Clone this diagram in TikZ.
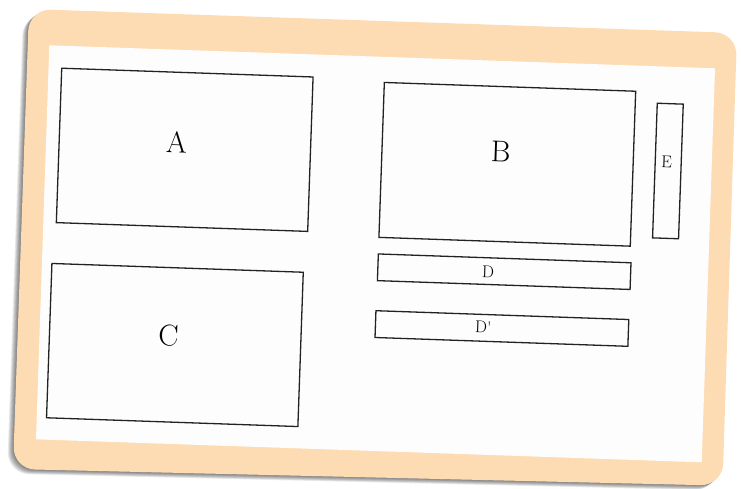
\documentclass[tikz,border=0pt]{standalone}
\usepackage{xcolor}
\usepackage{tikz}
\usetikzlibrary{positioning, calc}
\definecolor{FramePeach}{HTML}{FDDBB3}
\definecolor{SheetWhite}{HTML}{FDFDFD}
\definecolor{PanelLine}{HTML}{222222}

\begin{document}
\begin{tikzpicture}[x=1pt, y=-1pt,
    panel/.style={draw=PanelLine, line width=1.3pt, rotate=-2, inner sep=0pt},
    bigtag/.style={text=black, font=\fontsize{30}{36}\selectfont,
                   rotate=-2, inner sep=0pt},
    smalltag/.style={text=black, font=\fontsize{17}{20}\selectfont,
                     rotate=-2, inner sep=0pt}]
  \useasboundingbox (0,0) rectangle (741,488);
  % soft shadow of the frame
  \foreach \s in {1,...,8}
    \fill[black, opacity=0.075, rounded corners=22pt, shift={({-0.75*\s},{0.6*\s})}]
      (29,9) -- (737,33) -- (722.5,485.6) -- (13,469) -- cycle;
  % frame and sheet
  \fill[FramePeach, rounded corners=22pt]
    (29,9) -- (737,33) -- (722.5,485.6) -- (13,469) -- cycle;
  \fill[SheetWhite] (49.3,45.3) -- (715,68.3) -- (701.7,462.3) -- (36,439.3) -- cycle;
  % panels
  \node[panel, minimum width=251.5pt, minimum height=154.5pt] (A) at (184.7,149.8) {};
  \node[panel, minimum width=251.5pt, minimum height=155pt]   (B) at (507.3,164.3) {};
  \node[panel, minimum width=251.5pt, minimum height=154.4pt] (C) at (174.9,345.0) {};
  \node[panel, minimum width=252.8pt, minimum height=26.7pt]  (D) at (504.2,271.7) {};
  \node[panel, minimum width=253pt,   minimum height=26.8pt]  (Dp) at (501.9,328.5) {};
  \node[panel, minimum width=26pt,    minimum height=134.7pt] (E) at (667.9,171.0) {};
  % labels
  \node[bigtag]   (lA)  at ($(A)+(-8,-7.8)$)     {A};
  \node[bigtag]   (lB)  at ($(B)+(-6.5,-12.5)$)  {B};
  \node[bigtag]   (lC)  at ($(C)+(-6.5,-9.2)$)   {C};
  \node[smalltag] (lD)  at ($(D)+(-16,0)$)       {D};
  \node[smalltag] (lDp) at ($(Dp)+(-18.6,-1.2)$) {D\textquotesingle};
  \node[smalltag] (lE)  at ($(E)+(-1.2,-9)$)     {E};
\end{tikzpicture}
\end{document}
